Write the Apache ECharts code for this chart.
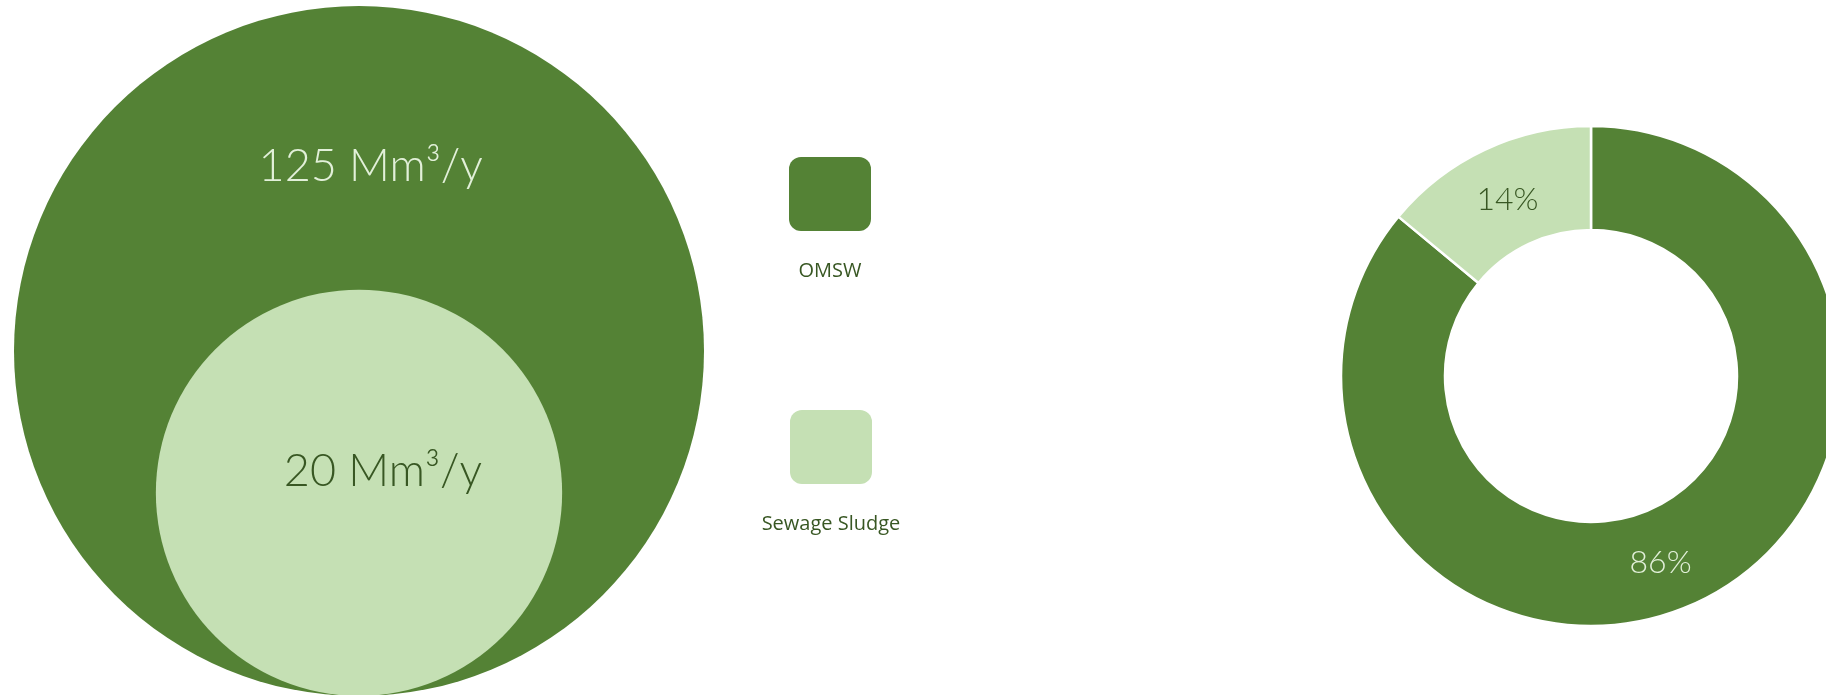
<!DOCTYPE html>
<html>
<head>
<meta charset="utf-8">
<script src="https://cdn.jsdelivr.net/npm/echarts@6/dist/echarts.min.js"></script>
<style>
  html, body { margin: 0; padding: 0; background: #ffffff; overflow: hidden; }
  #main { width: 1826px; height: 695px; }
</style>
</head>
<body>
<div id="main"></div>
<script>
// ---- data ----
const categories = ['OMSW', 'Sewage Sludge'];
const volumes = [125, 20];          // Mm³/y
const shares = [86, 14];            // %
const volumeUnit = 'Mm³/y';
const groupLabel = ['Annual volume'];

// ---- styles ----
const colors = ['#548235', '#C5E0B4'];
const labelColors = ['#E2F0D9', '#385723'];
const legendText = '#385723';

// bubble size scale (diameter in px) derived from the volume
const maxDiameter = 690;
const sizeExp = 0.289;
function bubbleSize(v) { return maxDiameter * Math.pow(v / volumes[0], sizeExp); }

const labelPos = [['51.7%', '23.2%'], ['55.9%', '44.7%']];
const baselineShift = [1, 1];   // px the bubbles sit below the shared baseline

const chart = echarts.init(document.getElementById('main'), null, { renderer: 'canvas' });
chart.setOption({
  animation: false,
  grid: { left: 14, width: 690, top: 0, bottom: 0, containLabel: false },
  xAxis: { type: 'category', data: groupLabel, show: false },
  yAxis: { type: 'value', min: 0, max: 1, show: false },
  series: categories.map((name, i) => ({
    name: name,
    type: 'scatter',
    silent: true,
    z: 2 + i,
    symbol: 'circle',
    symbolOffset: [0, -bubbleSize(volumes[i]) / 2 + baselineShift[i]],
    symbolSize: (val) => bubbleSize(val[2]),
    itemStyle: { color: colors[i], opacity: 1 },
    emphasis: { disabled: true },
    label: {
      show: true,
      position: labelPos[i],
      align: 'center',
      verticalAlign: 'middle',
      formatter: (p) => p.value[2] + ' ' + volumeUnit,
      color: labelColors[i],
      fontFamily: 'Lato',
      fontWeight: 300,
      fontSize: 45
    },
    data: [[0, 0, volumes[i]]]
  })).concat([{
    type: 'pie',
    silent: true,
    center: [1591, 376],
    radius: [146, 250],
    startAngle: 90,
    clockwise: true,
    avoidLabelOverlap: false,
    itemStyle: { borderColor: '#ffffff', borderWidth: 2.5 },
    emphasis: { disabled: true },
    label: {
      show: true,
      position: 'inside',
      formatter: '{c}%',
      fontFamily: 'Lato',
      fontWeight: 300,
      fontSize: 32
    },
    labelLine: { show: false },
    data: categories.map((name, i) => ({
      name: name,
      value: shares[i],
      itemStyle: { color: colors[i] },
      label: { color: labelColors[i], offset: i === 0 ? [-16, 5] : [2, 6] }
    }))
  }]),
  graphic: [
    { type: 'rect', x: 789, y: 157, shape: { x: 0, y: 0, width: 82, height: 74, r: 12 }, style: { fill: colors[0] }, silent: true },
    { type: 'text', x: 830, y: 271, style: { text: categories[0], fill: legendText, fontFamily: 'Open Sans', fontSize: 20, align: 'center', verticalAlign: 'middle' }, silent: true },
    { type: 'rect', x: 790, y: 410, shape: { x: 0, y: 0, width: 82, height: 74, r: 12 }, style: { fill: colors[1] }, silent: true },
    { type: 'text', x: 831, y: 524, style: { text: categories[1], fill: legendText, fontFamily: 'Open Sans', fontSize: 20, align: 'center', verticalAlign: 'middle' }, silent: true }
  ]
});
</script>
</body>
</html>
